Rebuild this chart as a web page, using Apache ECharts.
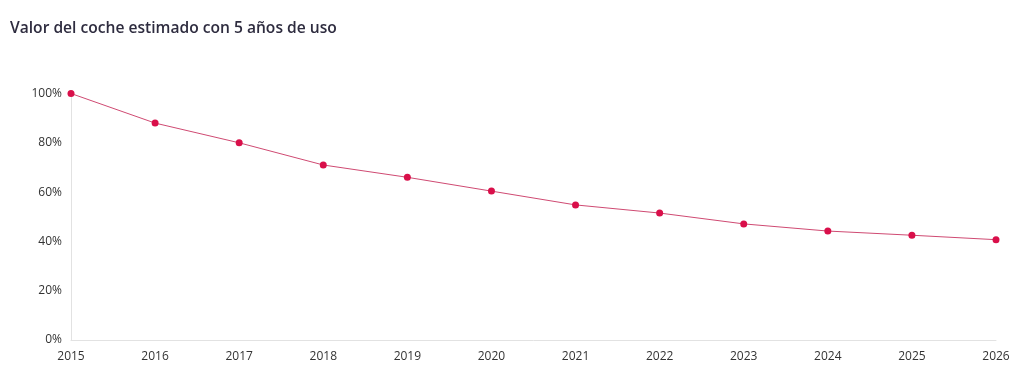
<!DOCTYPE html>
<html>
<head>
<meta charset="utf-8">
<script src="https://cdn.jsdelivr.net/npm/echarts@6/dist/echarts.min.js"></script>
<style>
html,body{margin:0;padding:0;background:#fff;}
#chart{width:1024px;height:379px;}
</style>
</head>
<body>
<div id="chart"></div>
<script>
const titleText = 'Valor del coche estimado con 5 años de uso';
const years = ['2015','2016','2017','2018','2019','2020','2021','2022','2023','2024','2025','2026'];
const values = [100, 88, 80, 71, 66, 60.4, 54.8, 51.5, 47.1, 44.2, 42.5, 40.7];
const yTicks = [0, 20, 40, 60, 80, 100];

const chart = echarts.init(document.getElementById('chart'));
chart.setOption({
  animation: false,
  backgroundColor: '#fff',
  title: {
    text: titleText,
    left: 10,
    top: 21,
    padding: 0,
    textStyle: { fontFamily: 'Open Sans', fontSize: 15.6, fontWeight: 600, color: '#2e2c3f' }
  },
  grid: { left: 71, right: 28, top: 93.5, bottom: 39 },
  xAxis: {
    type: 'category',
    data: years,
    boundaryGap: false,
    axisLine: { show: true, lineStyle: { color: '#e2e2e2', width: 1 } },
    axisTick: { show: false },
    axisLabel: { fontFamily: 'Open Sans', fontSize: 12, color: '#333', margin: 11, fontWeight: 500 },
    splitLine: { show: false }
  },
  yAxis: {
    type: 'value',
    min: yTicks[0],
    max: yTicks[yTicks.length - 1],
    interval: 20,
    axisLine: { show: true, lineStyle: { color: '#e2e2e2', width: 1 } },
    axisTick: { show: false },
    splitLine: { show: false },
    axisLabel: { fontFamily: 'Open Sans', fontSize: 12, color: '#333', margin: 9, fontWeight: 500, formatter: '{value}%' }
  },
  series: [{
    type: 'line',
    data: values,
    symbol: 'circle',
    symbolSize: 7,
    lineStyle: { color: '#cf4a72', width: 1 },
    itemStyle: { color: '#d90f4a' }
  }]
});
</script>
</body>
</html>
